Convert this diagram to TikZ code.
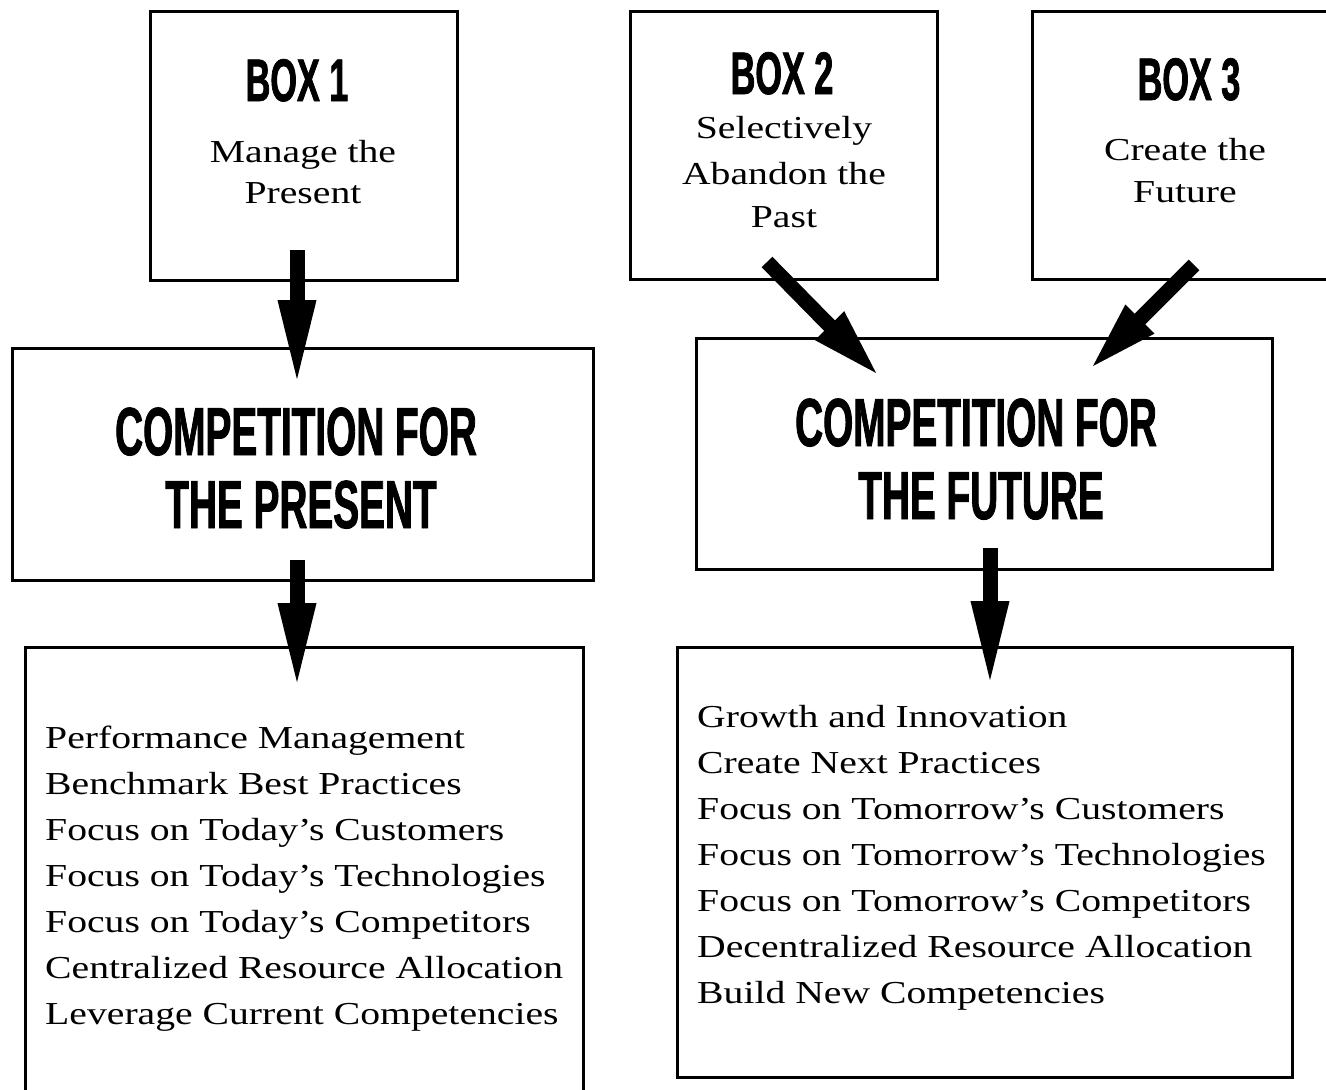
\documentclass[tikz,border=0pt]{standalone}
\usepackage{fontspec}
\usetikzlibrary{arrows.meta}
\newfontfamily\bodyfont[FakeStretch=1.24]{Liberation Serif}
\newfontfamily\headfont[FakeStretch=0.57,FakeBold=1.2]{Liberation Sans}
\begin{document}
\begin{tikzpicture}[x=1pt,y=-1pt,
  frame/.style={draw=black,line width=3pt},
  bigarrow/.style={line width=15pt,line cap=butt,-{Triangle[length=87pt,width=34pt]}},
  diagarrow/.style={line width=15pt,line cap=butt,-{Triangle[length=72pt,width=36pt]}},
  boxtitle/.style={anchor=base,inner sep=0pt,font=\headfont\bfseries\fontsize{60}{60}\selectfont},
  comptitle/.style={anchor=base,inner sep=0pt,font=\headfont\bfseries\fontsize{68}{68}\selectfont},
  boxtext/.style={anchor=base,inner sep=0pt,font=\bodyfont\fontsize{32}{32}\selectfont},
  listtext/.style={anchor=base west,inner sep=0pt,font=\bodyfont\fontsize{32}{32}\selectfont}]
\clip (0,0) rectangle (1326,1090);
\fill[white] (0,0) rectangle (1326,1090);
% boxes
\draw[frame] (150,11) rectangle (457,280);
\node[inner sep=0pt] (box1) at (303.5,145.5) {};
\draw[frame] (630,11) rectangle (937,279);
\node[inner sep=0pt] (box2) at (783.5,145) {};
\draw[frame] (1032,11) rectangle (1340,279);
\node[inner sep=0pt] (box3) at (1186,145) {};
\draw[frame] (12,348) rectangle (593,580);
\node[inner sep=0pt] (cp) at (302.5,464) {};
\draw[frame] (696,338) rectangle (1272,569);
\node[inner sep=0pt] (cf) at (984,453.5) {};
\draw[frame] (25,647) rectangle (583,1110);
\node[inner sep=0pt] (lp) at (304,870) {};
\draw[frame] (677,647) rectangle (1292,1077);
\node[inner sep=0pt] (lf) at (984.5,862) {};
% box texts
\node[boxtitle] (t1) at (297,101) {BOX 1};
\node[boxtext] (t1a) at (303,162) {Manage the};
\node[boxtext] (t1b) at (303,203) {Present};
\node[boxtitle] (t2) at (782,94) {BOX 2};
\node[boxtext] (t2a) at (784,138) {Selectively};
\node[boxtext] (t2b) at (784,184) {Abandon the};
\node[boxtext] (t2c) at (784,227) {Past};
\node[boxtitle] (t3) at (1189,100) {BOX 3};
\node[boxtext] (t3a) at (1185,160) {Create the};
\node[boxtext] (t3b) at (1185,202) {Future};
% competition titles
\node[comptitle] (c1a) at (296,455) {COMPETITION FOR};
\node[comptitle] (c1b) at (301,528) {THE PRESENT};
\node[comptitle] (c2a) at (976,446) {COMPETITION FOR};
\node[comptitle] (c2b) at (981,519) {THE FUTURE};
% lists
\foreach \t [count=\i] in {Performance Management,Benchmark Best Practices,Focus on Today’s Customers,Focus on Today’s Technologies,Focus on Today’s Competitors,Centralized Resource Allocation,Leverage Current Competencies}
  \node[listtext] (lp\i) at (45,{748+46*(\i-1)}) {\t};
\foreach \t [count=\i] in {Growth and Innovation,Create Next Practices,Focus on Tomorrow’s Customers,Focus on Tomorrow’s Technologies,Focus on Tomorrow’s Competitors,Decentralized Resource Allocation,Build New Competencies}
  \node[listtext] (lf\i) at (697,{727+46*(\i-1)}) {\t};
% arrows
\coordinate (a1s) at (297,250);
\coordinate (a1e) at (297,387);
\coordinate (a2s) at (297,560);
\coordinate (a2e) at (297,690);
\coordinate (a3s) at (990,548);
\coordinate (a3e) at (990,688);
\coordinate (a4s) at (767,262);
\coordinate (a4e) at (880,377);
\coordinate (a5s) at (1194,265);
\coordinate (a5e) at (1089,370);
\draw[bigarrow] (a1s) -- (a1e);
\draw[bigarrow] (a2s) -- (a2e);
\draw[bigarrow] (a3s) -- (a3e);
\draw[diagarrow] (a4s) -- (a4e);
\draw[diagarrow] (a5s) -- (a5e);
\end{tikzpicture}
\end{document}
